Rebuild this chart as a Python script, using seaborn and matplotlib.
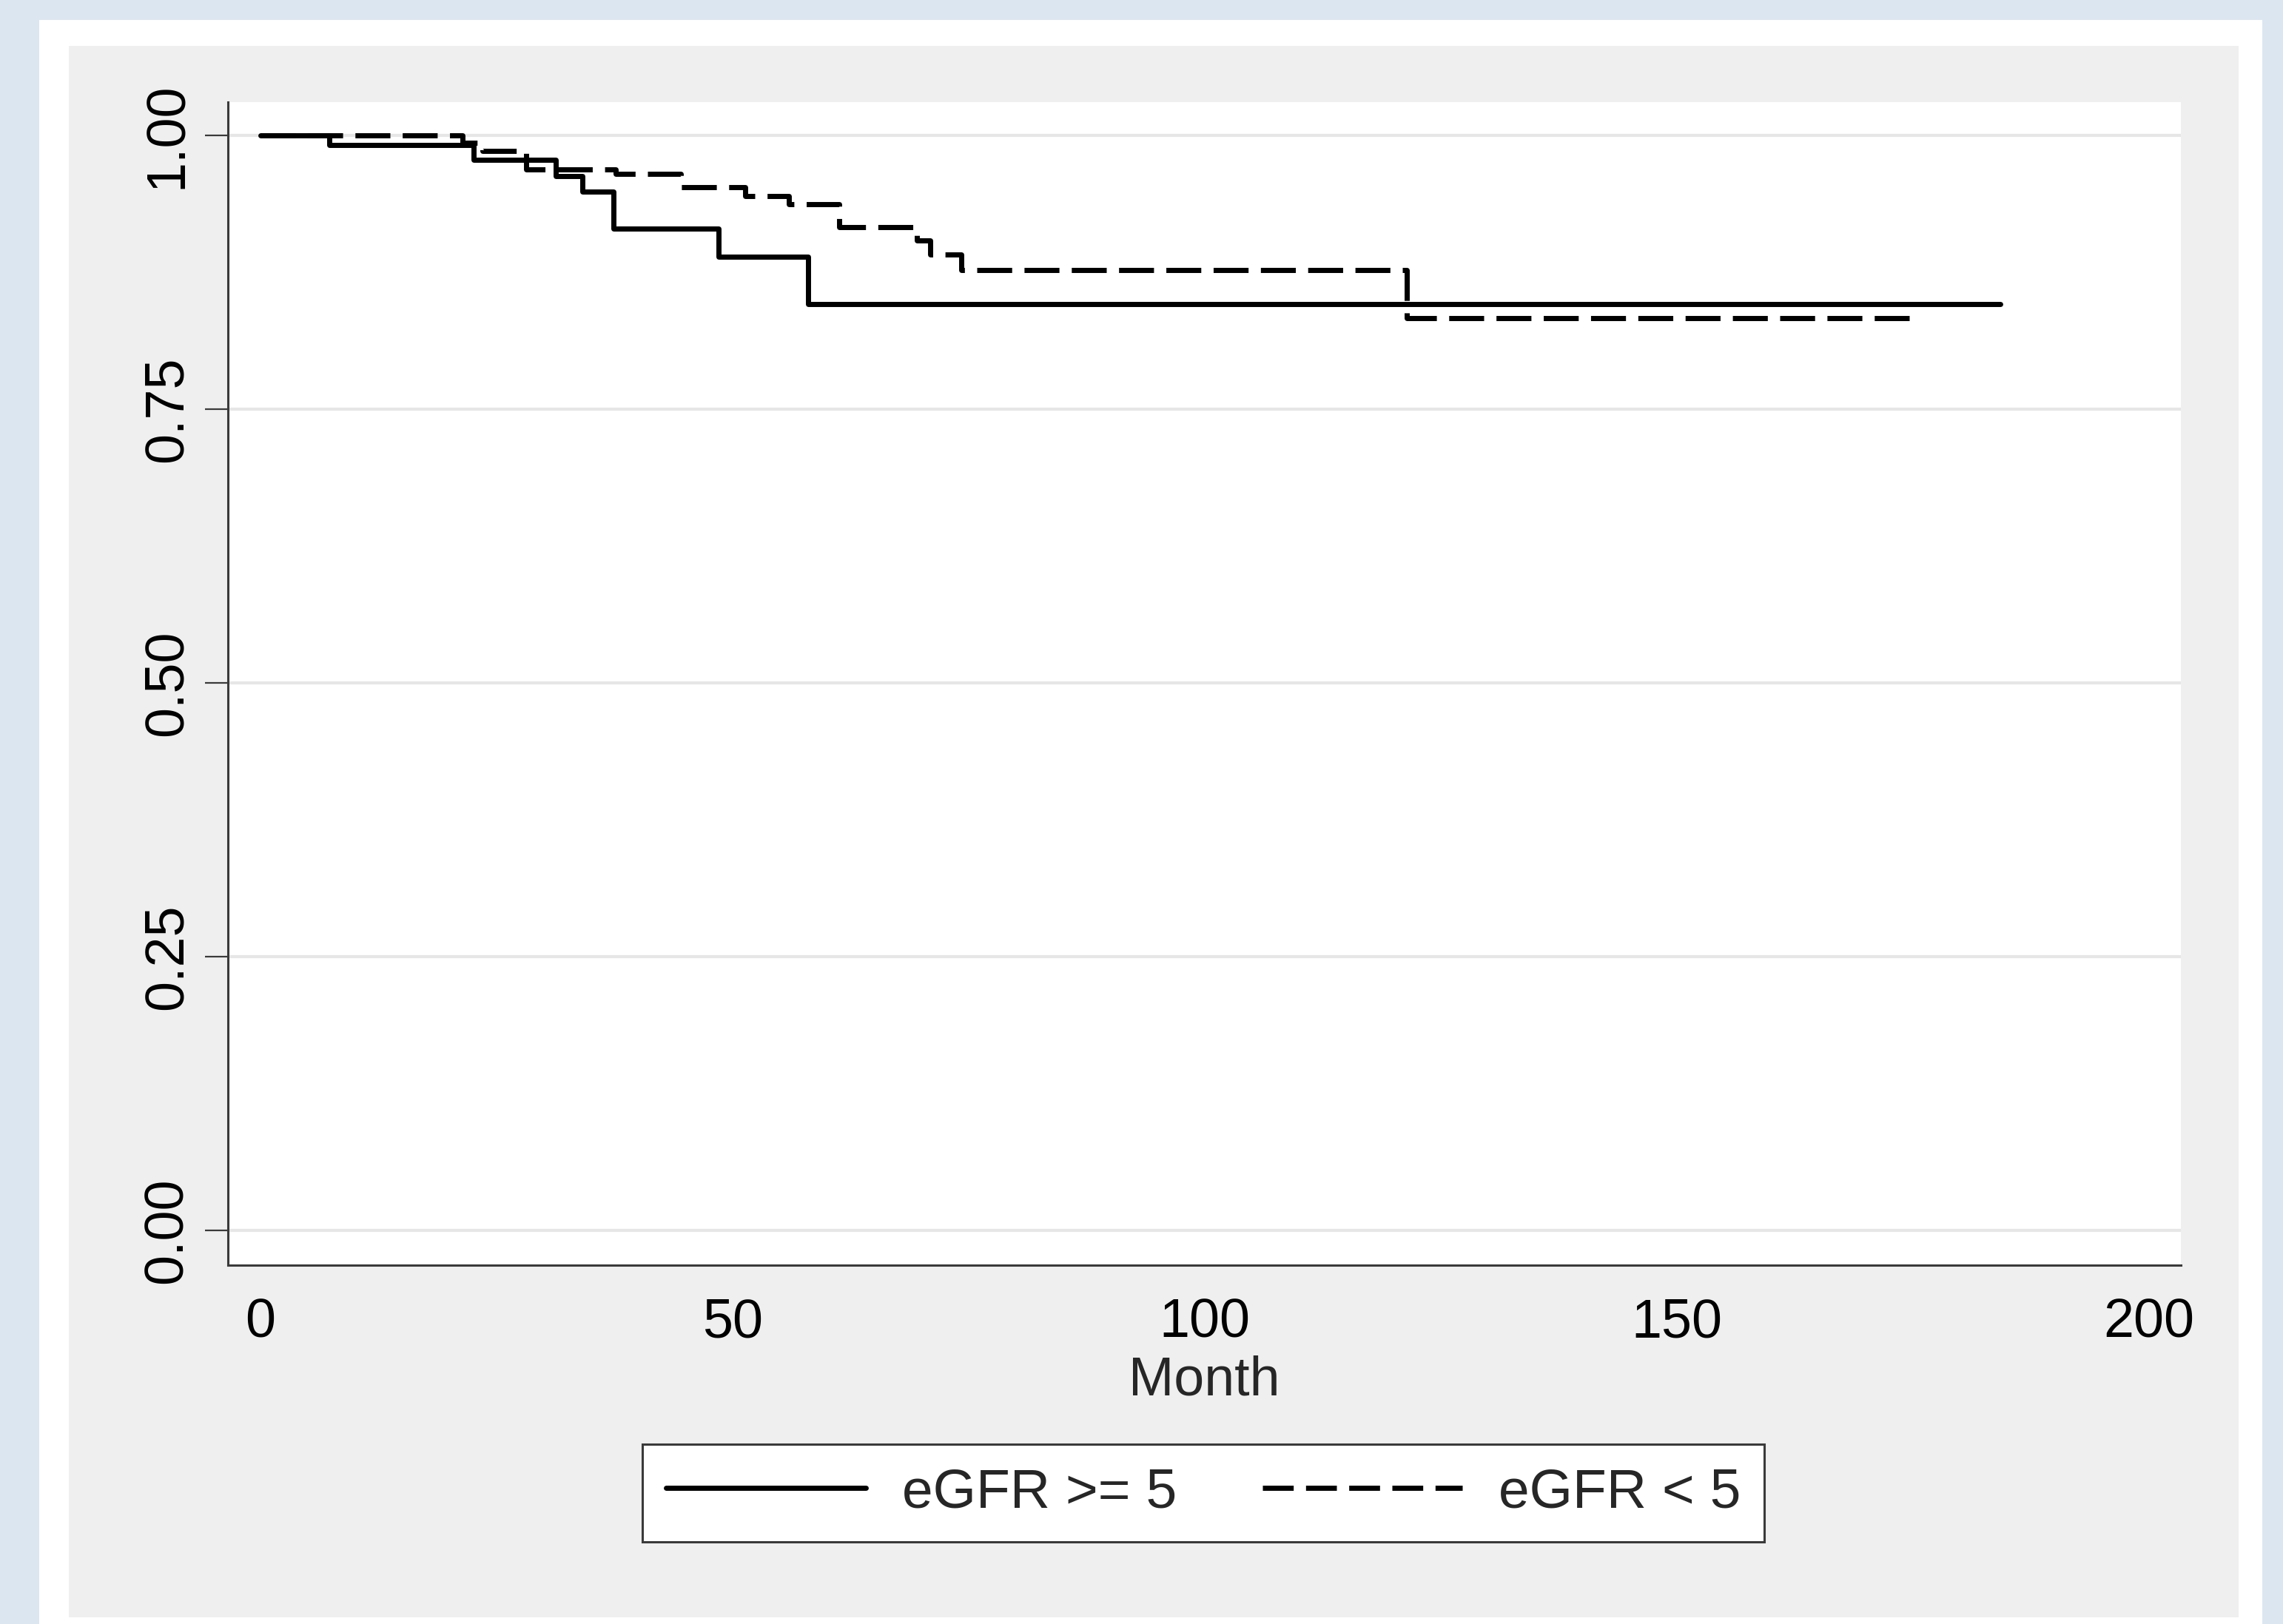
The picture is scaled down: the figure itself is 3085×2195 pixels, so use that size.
import pandas as pd
import matplotlib
matplotlib.use("Agg")
import matplotlib.pyplot as plt
from matplotlib.patches import Rectangle
from matplotlib.lines import Line2D
import seaborn as sns

# Kaplan-Meier steps (months, survival)
solid_time = [0, 7.3, 22.6, 31.3, 34.1, 37.4, 48.5, 58.0, 184.3]
solid_surv = [1.0, 0.991, 0.978, 0.963, 0.949, 0.915, 0.889, 0.846, 0.846]

dashed_time = [0, 21.4, 23.5, 28.1, 37.6, 44.5, 51.3, 56.0, 61.3, 69.5, 70.9, 74.2, 121.4, 174.6]
dashed_surv = [1.0, 0.993, 0.986, 0.969, 0.965, 0.953, 0.945, 0.937, 0.916, 0.904, 0.891, 0.877, 0.833, 0.833]

group_names = ["eGFR >= 5", "eGFR < 5"]
x_ticks = [0, 50, 100, 150, 200]
y_ticks = [0.0, 0.25, 0.5, 0.75, 1.0]
y_ticklabels = ["0.00", "0.25", "0.50", "0.75", "1.00"]

df = pd.concat([
    pd.DataFrame({"Month": solid_time, "surv": solid_surv, "group": group_names[0]}),
    pd.DataFrame({"Month": dashed_time, "surv": dashed_surv, "group": group_names[1]}),
], ignore_index=True)

sns.set_style("white")
plt.rcParams["font.family"] = ["Liberation Sans", "DejaVu Sans"]

W, H = 3085, 2195
fig = plt.figure(figsize=(W / 100, H / 100), dpi=100)
fig.patch.set_facecolor("#dce6f1")

# stata style panels: white frame, then light gray graph region
fig.patches.append(Rectangle((53 / W, 0), (3057 - 53) / W, (H - 27) / H,
                             transform=fig.transFigure, facecolor="white", edgecolor="none", zorder=-2))
fig.patches.append(Rectangle((93 / W, (H - 2186) / H), (3025 - 93) / W, (2186 - 62) / H,
                             transform=fig.transFigure, facecolor="#efefef", edgecolor="none", zorder=-1))

ax = fig.add_axes([308 / W, 1 - 1710 / H, (2947 - 308) / W, (1710 - 138) / H])
ax.set_facecolor("white")

lw = 5.0
dash_pat = (6.8, 2.4)
sns.lineplot(data=df, x="Month", y="surv", style="group", style_order=group_names,
             dashes={group_names[0]: "", group_names[1]: dash_pat},
             color="black", lw=lw, estimator=None, sort=False,
             drawstyle="steps-post", legend=False, ax=ax)

ax.set_xlim(-3.45, 203.4)
ax.set_ylim(-0.0318, 1.0305)
ax.set_xticks(x_ticks)
ax.set_yticks(y_ticks)
ax.set_yticklabels(y_ticklabels, rotation=90, va="center")
ax.set_ylabel("")
ax.set_xlabel("Month", fontsize=53, labelpad=7)

for yv in y_ticks:
    ax.axhline(yv, color="#e6e6e6", lw=3, zorder=0)

for side in ["top", "right"]:
    ax.spines[side].set_visible(False)
for side in ["left", "bottom"]:
    ax.spines[side].set_color("#3a3a3a")
    ax.spines[side].set_linewidth(2.2)

ax.tick_params(axis="both", which="major", direction="out", length=22, width=1.6,
               color="#3a3a3a", labelsize=53, labelcolor="black")
ax.tick_params(axis="x", pad=9)
ax.tick_params(axis="y", pad=12, left=True)

handles = [Line2D([], [], color="black", lw=lw),
           Line2D([], [], color="black", lw=lw, dashes=(6.0, 2.4))]
leg = fig.legend(handles, group_names, loc="center", bbox_to_anchor=(1626 / W, 1 - 2018 / H),
                 ncol=2, fontsize=54, frameon=True, fancybox=False, handlelength=3.6,
                 handletextpad=0.65, columnspacing=1.55, borderpad=0.42)
leg.get_frame().set_edgecolor("#3a3a3a")
leg.get_frame().set_linewidth(2.2)
leg.get_frame().set_facecolor("white")
leg.get_frame().set_alpha(1)

fig.savefig("out.png", dpi=100, facecolor=fig.get_facecolor())
